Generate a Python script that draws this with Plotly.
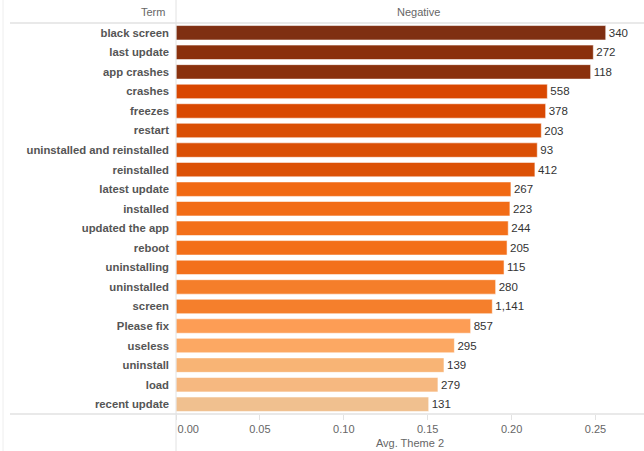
import plotly.graph_objects as go

# Terms, top to bottom
terms = [
    "black screen", "last update", "app crashes", "crashes", "freezes",
    "restart", "uninstalled and reinstalled", "reinstalled", "latest update",
    "installed", "updated the app", "reboot", "uninstalling", "uninstalled",
    "screen", "Please fix", "useless", "uninstall", "load", "recent update",
]
# Average of Theme 2 per term
avg_theme2 = [
    0.2561, 0.2487, 0.2471, 0.2213, 0.2203,
    0.2177, 0.2153, 0.2139, 0.1996,
    0.1990, 0.1980, 0.1973, 0.1955, 0.1905,
    0.1885, 0.1756, 0.1659, 0.1597, 0.1561, 0.1506,
]
# Number of reviews per term
review_counts = [
    340, 272, 118, 558, 378,
    203, 93, 412, 267,
    223, 244, 205, 115, 280,
    1141, 857, 295, 139, 279, 131,
]
x_ticks = [0.00, 0.05, 0.10, 0.15, 0.20, 0.25]

bar_colors = [
    "#7f2f12", "#8a300c", "#8a310d", "#d94701", "#d94801",
    "#da4f05", "#da4f05", "#dc5106", "#f16913",
    "#f26c16", "#f36f19", "#f36f19", "#f3701b", "#f57e2a",
    "#f57f2c", "#fd9d55", "#fca863", "#f8b475", "#f6b880", "#f0c08f",
]

W, H = 644, 451
L, R, T, B = 176, 0, 23, 37
px_per_unit = 1678.0
x_max = (W - L - R) / px_per_unit

# first tick label sits inside the pane, nudged right of the divider
tick_text = [f"{v:.2f}" for v in x_ticks]
tick_text[0] = "\u00a0" * 8 + tick_text[0]

fig = go.Figure(
    go.Bar(
        x=avg_theme2,
        y=terms,
        orientation="h",
        customdata=review_counts,
        texttemplate="%{customdata:,}",
        textposition="outside",
        textfont=dict(family="Liberation Sans, Arial, sans-serif", size=11.5, color="#333333"),
        cliponaxis=False,
        width=0.74,
        marker=dict(color=bar_colors, line=dict(color="rgba(255,255,255,0.55)", width=1)),
        hoverinfo="skip",
    )
)

line_grey = "#e2e2e2"
fig.update_layout(
    width=W, height=H,
    margin=dict(l=L, r=R, t=T, b=B, pad=0),
    paper_bgcolor="white", plot_bgcolor="white",
    showlegend=False,
    font=dict(family="Liberation Sans, Arial, sans-serif", size=11, color="#555555"),
    xaxis=dict(
        range=[0, x_max],
        tickvals=x_ticks,
        ticktext=tick_text,
        ticks="outside", ticklen=5, tickcolor=line_grey,
        showgrid=False, zeroline=False, showline=False,
        tickfont=dict(size=11, color="#666666"),
        title=dict(text="Avg. Theme 2", font=dict(size=11, color="#666666"), standoff=5),
    ),
    yaxis=dict(
        categoryorder="array", categoryarray=terms[::-1],
        range=[-0.5, len(terms) - 0.5],
        showgrid=False, zeroline=False, showline=False, ticks="",
        ticklabelstandoff=6,
        tickfont=dict(size=11.3, color="#555555", weight="bold"),
    ),
    shapes=[
        # header rule
        dict(type="line", xref="paper", yref="paper", x0=-(L - 10) / (W - L), x1=1,
             y0=1, y1=1, line=dict(color=line_grey, width=1.5)),
        # axis rule
        dict(type="line", xref="paper", yref="paper", x0=-(L - 10) / (W - L), x1=1,
             y0=0, y1=0, line=dict(color=line_grey, width=1.5)),
        # pane divider
        dict(type="line", xref="paper", yref="paper", x0=0, x1=0,
             y0=-B / (H - T - B), y1=1 + T / (H - T - B), line=dict(color=line_grey, width=1)),
        # outer left border
        dict(type="line", xref="paper", yref="paper", x0=-(L - 3) / (W - L), x1=-(L - 3) / (W - L),
             y0=-B / (H - T - B), y1=1 + T / (H - T - B), line=dict(color="#eeeeee", width=1)),
    ],
    annotations=[
        dict(text="Term", xref="paper", yref="paper", x=-9 / (W - L), y=1 + 11 / (H - T - B),
             xanchor="right", yanchor="middle", showarrow=False,
             font=dict(size=11, color="#666666")),
        dict(text="Negative", xref="paper", yref="paper", x=(418 - L) / (W - L), y=1 + 11 / (H - T - B),
             xanchor="center", yanchor="middle", showarrow=False,
             font=dict(size=11, color="#666666")),
    ],
)

fig.write_html("out.html")
